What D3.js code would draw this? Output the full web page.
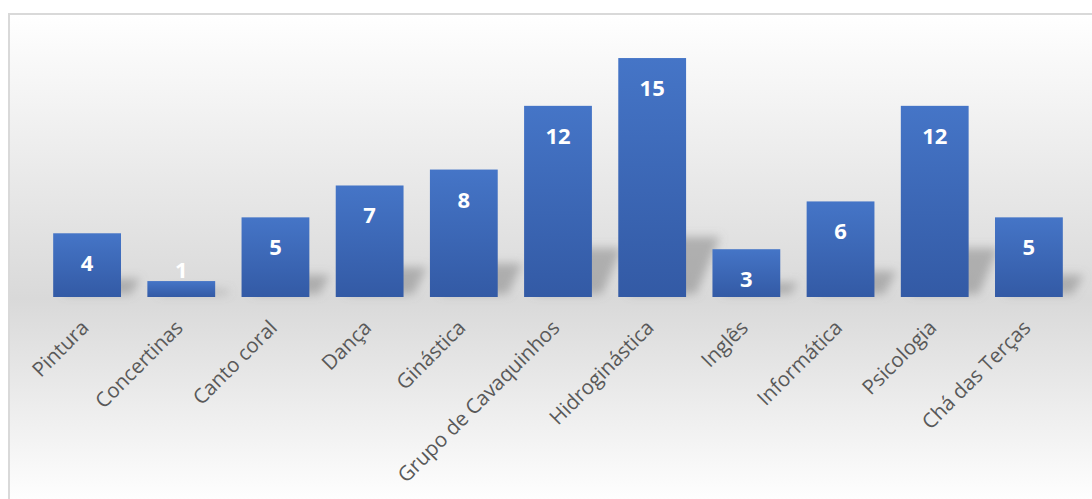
<!DOCTYPE html>
<html>
<head>
<meta charset="utf-8">
<title>Atividades</title>
<script src="https://d3js.org/d3.v7.min.js"></script>
<style>
  body { margin: 0; background: #ffffff; }
  svg { display: block; }
  .cat-label { font-family: "Open Sans", sans-serif; font-size: 20.5px; fill: #595959; }
  .val-label { font-family: "Open Sans", sans-serif; font-size: 22px; font-weight: bold; fill: #ffffff; }
</style>
</head>
<body>
<div id="chart"></div>
<script>
// Data
var categories = ["Pintura", "Concertinas", "Canto coral", "Dança", "Ginástica",
                  "Grupo de Cavaquinhos", "Hidroginástica", "Inglês", "Informática",
                  "Psicologia", "Chá das Terças"];
var values = [4, 1, 5, 7, 8, 12, 15, 3, 6, 12, 5];

const width = 1092, height = 499;
const baseline = 297;

var svg = d3.select("#chart").append("svg")
  .attr("width", width)
  .attr("height", height);

var defs = svg.append("defs");

// chart area background gradient
var bg = defs.append("linearGradient")
  .attr("id", "bgGrad")
  .attr("gradientUnits", "userSpaceOnUse")
  .attr("x1", 0).attr("y1", 14).attr("x2", 0).attr("y2", 505);
bg.append("stop").attr("offset", "0%").attr("stop-color", "#ffffff");
bg.append("stop").attr("offset", "58%").attr("stop-color", "#d9d9d9");
bg.append("stop").attr("offset", "100%").attr("stop-color", "#ffffff");

// bar gradient
var barGrad = defs.append("linearGradient")
  .attr("id", "barGrad")
  .attr("x1", 0).attr("y1", 0).attr("x2", 0).attr("y2", 1);
barGrad.append("stop").attr("offset", "0%").attr("stop-color", "#4575c7");
barGrad.append("stop").attr("offset", "100%").attr("stop-color", "#335aa5");

// blur for perspective shadows
defs.append("filter")
  .attr("id", "shadowBlur")
  .attr("x", "-50%").attr("y", "-50%").attr("width", "200%").attr("height", "200%")
  .append("feGaussianBlur").attr("stdDeviation", 5);

// chart area
svg.append("rect")
  .attr("x", 9).attr("y", 14)
  .attr("width", width + 10).attr("height", height + 10)
  .attr("fill", "url(#bgGrad)")
  .attr("stroke", "#d9d9d9")
  .attr("stroke-width", 2);

// scales
var x = d3.scaleBand()
  .domain(categories)
  .range([40, 1076])
  .paddingInner(0.28)
  .paddingOuter(0.14);

var y = d3.scaleLinear()
  .domain([0, 16])
  .range([baseline, baseline - 16 * 15.93]);

// shadows
svg.append("g")
  .attr("filter", "url(#shadowBlur)")
  .selectAll("path")
  .data(values)
  .join("path")
  .attr("d", function(d, i) {
    var x0 = x(categories[i]) + 10, w = x.bandwidth();
    var h = (baseline - y(d)) * 0.24;
    var sk = h * 0.35 + 4;
    return "M" + x0 + "," + (baseline - 3) +
           "L" + (x0 + w) + "," + (baseline - 3) +
           "L" + (x0 + w + sk) + "," + (baseline - 3 - h) +
           "L" + (x0 + sk) + "," + (baseline - 3 - h) + "Z";
  })
  .attr("fill", "#808080")
  .attr("opacity", 0.5);

// bars
svg.append("g")
  .selectAll("rect")
  .data(values)
  .join("rect")
  .attr("x", function(d, i) { return x(categories[i]); })
  .attr("y", function(d) { return y(d); })
  .attr("width", x.bandwidth())
  .attr("height", function(d) { return baseline - y(d); })
  .attr("fill", "url(#barGrad)");

// value labels
svg.append("g")
  .selectAll("text")
  .data(values)
  .join("text")
  .attr("class", "val-label")
  .attr("text-anchor", "middle")
  .attr("x", function(d, i) { return x(categories[i]) + x.bandwidth() / 2; })
  .attr("y", function(d) {
    return (baseline - y(d)) > 40 ? y(d) + 38 : y(d) - 3;
  })
  .text(function(d) { return d; });

// category labels
svg.append("g")
  .selectAll("text")
  .data(categories)
  .join("text")
  .attr("class", "cat-label")
  .attr("text-anchor", "end")
  .attr("transform", function(d) {
    return "translate(" + (x(d) + x.bandwidth() / 2 + 3) + "," + (baseline + 32) + ") rotate(-45)";
  })
  .text(function(d) { return d; });
</script>
</body>
</html>
